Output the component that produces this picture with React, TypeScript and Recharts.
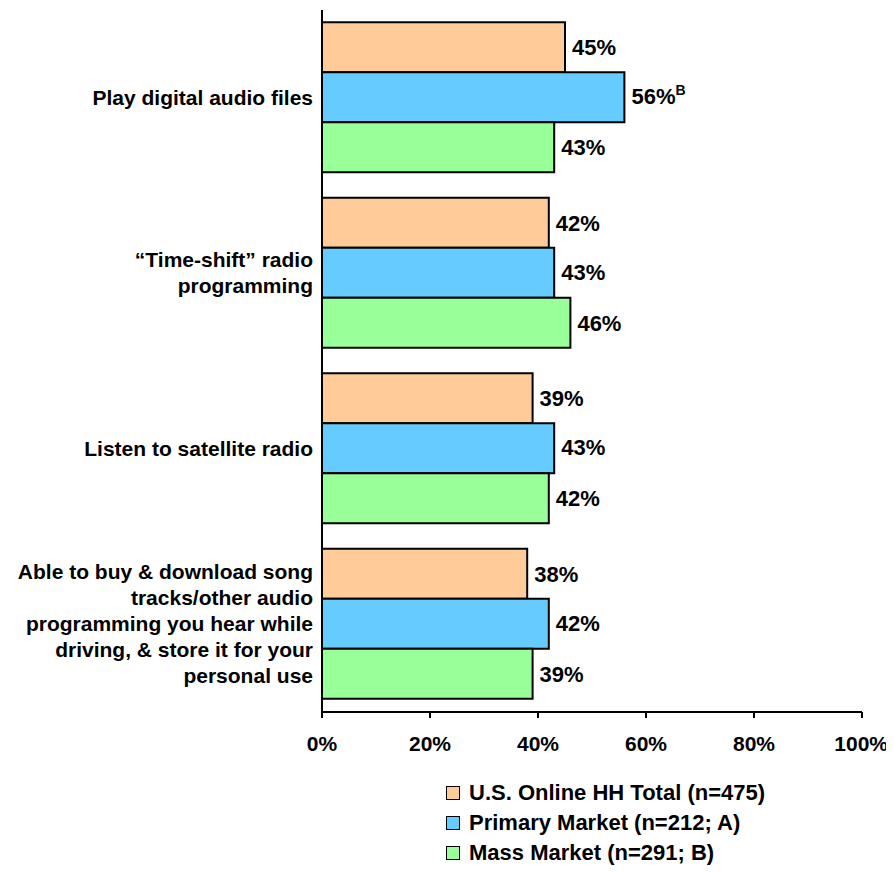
import React from "react";
import { BarChart, Bar, XAxis, YAxis, LabelList, Legend } from "recharts";

const categories = [
  ["Play digital audio files"],
  ["\u201CTime-shift\u201D radio", "programming"],
  ["Listen to satellite radio"],
  [
    "Able to buy & download song",
    "tracks/other audio",
    "programming you hear while",
    "driving, & store it for your",
    "personal use",
  ],
];
const totalValues = [45, 42, 39, 38];
const primaryValues = [56, 43, 43, 42];
const massValues = [43, 46, 42, 39];
const primaryNotes = ["B", "", "", ""];
const xTicks = [0, 20, 40, 60, 80, 100];
const boundaryTicks = [0, 1, 2, 3, 4];

const seriesNames = [
  "U.S. Online HH Total (n=475)",
  "Primary Market (n=212; A)",
  "Mass Market (n=291; B)",
];
const colors = ["#FFCC99", "#66CCFF", "#99FF99"];

const data = categories.map((lines, i) => ({
  name: lines.join(" "),
  lines,
  total: totalValues[i],
  primary: primaryValues[i],
  mass: massValues[i],
  note: primaryNotes[i],
}));

const FONT = "'Liberation Sans', Arial, Helvetica, sans-serif";

const CategoryTick = (props: any) => {
  const { x, y, payload } = props;
  const entry = data.find((d) => d.name === payload.value);
  const lines = entry ? entry.lines : [String(payload.value)];
  const lh = 26;
  const start = -((lines.length - 1) * lh) / 2;
  return (
    <text
      x={x}
      y={y}
      textAnchor="end"
      fontFamily={FONT}
      fontWeight="bold"
      fontSize={21}
      fill="#000"
    >
      {lines.map((l: string, i: number) => (
        <tspan key={i} x={x} dy={i === 0 ? start + 7 : lh}>
          {l}
        </tspan>
      ))}
    </text>
  );
};

const PrimaryLabel = (props: any) => {
  const { x, y, width, height, value, index } = props;
  const note = primaryNotes[index] || "";
  return (
    <text
      x={Number(x) + Number(width) + 7}
      y={Number(y) + Number(height) / 2 + 7}
      fontFamily={FONT}
      fontWeight="bold"
      fontSize={22}
      fill="#000"
    >
      {value}%
      {note ? (
        <tspan fontSize={14} dy={-9}>
          {note}
        </tspan>
      ) : null}
    </text>
  );
};

const LegendContent = () => (
  <div
    style={{
      height: 106,
      boxSizing: "border-box",
      paddingTop: 10,
      paddingLeft: 438,
      textAlign: "left",
      fontFamily: FONT,
      fontWeight: "bold",
      fontSize: 22,
      color: "#000",
    }}
  >
    {seriesNames.map((n, i) => (
      <div
        key={i}
        style={{ height: 30, display: "flex", alignItems: "center" }}
      >
        <span
          style={{
            display: "inline-block",
            width: 14,
            height: 14,
            boxSizing: "border-box",
            border: "1.5px solid #000",
            background: colors[i],
            marginRight: 9,
          }}
        />
        <span style={{ whiteSpace: "nowrap" }}>{n}</span>
      </div>
    ))}
  </div>
);

const labelStyle = {
  fontFamily: FONT,
  fontWeight: "bold",
  fontSize: 22,
  fill: "#000",
};

export default function App() {
  return (
    <div style={{ fontFamily: FONT }}>
      <BarChart
        width={880}
        height={866}
        data={data}
        layout="vertical"
        margin={{ top: 2, right: 26, left: 0, bottom: 0 }}
        barGap={0}
        barCategoryGap="7%"
      >
        <XAxis
          type="number"
          domain={[0, 100]}
          ticks={xTicks}
          tickFormatter={(v: number) => `${v}%`}
          tick={{ fontSize: 21, fontWeight: "bold", fill: "#000", fontFamily: FONT }}
          tickSize={6}
          tickMargin={18}
          height={56}
          axisLine={{ stroke: "#000", strokeWidth: 2 }}
          tickLine={{ stroke: "#000", strokeWidth: 2 }}
        />
        <YAxis
          yAxisId="grid"
          type="number"
          domain={[0, 4]}
          ticks={boundaryTicks}
          allowDataOverflow
          tick={false}
          tickSize={7}
          width={0}
          axisLine={false}
          tickLine={{ stroke: "#000", strokeWidth: 2 }}
        />
        <YAxis
          yAxisId="cat"
          type="category"
          dataKey="name"
          width={314}
          tickLine={false}
          tickSize={0}
          tickMargin={9}
          tick={<CategoryTick />}
          axisLine={{ stroke: "#000", strokeWidth: 2 }}
          interval={0}
        />
        <Legend verticalAlign="bottom" content={<LegendContent />} />
        <Bar
          yAxisId="cat"
          dataKey="total"
          name={seriesNames[0]}
          fill={colors[0]}
          stroke="#000"
          strokeWidth={2}
          isAnimationActive={false}
        >
          <LabelList
            dataKey="total"
            position="right"
            offset={7}
            formatter={(v: any) => `${v}%`}
            style={labelStyle}
          />
        </Bar>
        <Bar
          yAxisId="cat"
          dataKey="primary"
          name={seriesNames[1]}
          fill={colors[1]}
          stroke="#000"
          strokeWidth={2}
          isAnimationActive={false}
        >
          <LabelList dataKey="primary" content={<PrimaryLabel />} />
        </Bar>
        <Bar
          yAxisId="cat"
          dataKey="mass"
          name={seriesNames[2]}
          fill={colors[2]}
          stroke="#000"
          strokeWidth={2}
          isAnimationActive={false}
        >
          <LabelList
            dataKey="mass"
            position="right"
            offset={7}
            formatter={(v: any) => `${v}%`}
            style={labelStyle}
          />
        </Bar>
      </BarChart>
    </div>
  );
}
